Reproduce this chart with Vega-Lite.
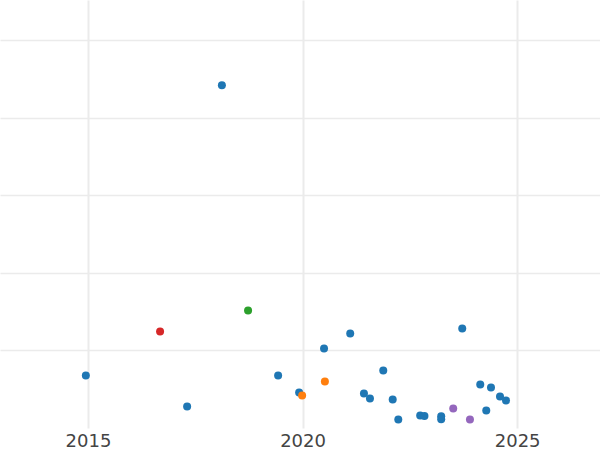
{
  "$schema": "https://vega.github.io/schema/vega-lite/v6.json",
  "width": 600,
  "height": 428,
  "padding": {"left": 0, "right": 0, "top": 0, "bottom": 22},
  "autosize": {"type": "none"},
  "config": {"view": {"stroke": null}},
  "data": {"values": [
    {"year": 2018.12, "value": 4.42, "group": "A"},
    {"year": 2016.68, "value": 1.245, "group": "D"},
    {"year": 2018.73, "value": 1.516, "group": "C"},
    {"year": 2014.95, "value": 0.677, "group": "A"},
    {"year": 2017.31, "value": 0.277, "group": "A"},
    {"year": 2019.43, "value": 0.677, "group": "A"},
    {"year": 2019.92, "value": 0.458, "group": "A"},
    {"year": 2019.99, "value": 0.419, "group": "B"},
    {"year": 2020.50, "value": 1.026, "group": "A"},
    {"year": 2020.52, "value": 0.60, "group": "B"},
    {"year": 2021.11, "value": 1.219, "group": "A"},
    {"year": 2021.43, "value": 0.445, "group": "A"},
    {"year": 2021.57, "value": 0.381, "group": "A"},
    {"year": 2021.88, "value": 0.742, "group": "A"},
    {"year": 2022.10, "value": 0.368, "group": "A"},
    {"year": 2022.23, "value": 0.110, "group": "A"},
    {"year": 2022.74, "value": 0.161, "group": "A"},
    {"year": 2022.84, "value": 0.155, "group": "A"},
    {"year": 2023.23, "value": 0.150, "group": "A"},
    {"year": 2023.23, "value": 0.112, "group": "A"},
    {"year": 2023.51, "value": 0.252, "group": "E"},
    {"year": 2023.90, "value": 0.110, "group": "E"},
    {"year": 2023.72, "value": 1.284, "group": "A"},
    {"year": 2024.14, "value": 0.561, "group": "A"},
    {"year": 2024.39, "value": 0.523, "group": "A"},
    {"year": 2024.28, "value": 0.226, "group": "A"},
    {"year": 2024.60, "value": 0.406, "group": "A"},
    {"year": 2024.74, "value": 0.355, "group": "A"}
  ]},
  "mark": {"type": "circle", "size": 64, "opacity": 1},
  "encoding": {
    "x": {
      "field": "year", "type": "quantitative",
      "scale": {"domain": [2012.95, 2026.93], "nice": false, "zero": false},
      "axis": {
        "title": null, "values": [2015, 2020, 2025], "format": "d",
        "domain": false, "ticks": false, "labelPadding": 4,
        "labelFont": "DejaVu Sans", "labelFontSize": 18, "labelColor": "#444444",
        "gridColor": "#ebebeb", "gridWidth": 2
      }
    },
    "y": {
      "field": "value", "type": "quantitative",
      "scale": {"domain": [0, 5.52], "nice": false, "zero": false},
      "axis": {
        "title": null, "values": [1, 2, 3, 4, 5], "labels": false,
        "domain": false, "ticks": false,
        "gridColor": "#ebebeb", "gridWidth": 1.5
      }
    },
    "color": {
      "field": "group", "type": "nominal",
      "scale": {"domain": ["A", "B", "C", "D", "E"], "range": ["#1f77b4", "#ff7f0e", "#2ca02c", "#d62728", "#9467bd"]},
      "legend": null
    }
  }
}
